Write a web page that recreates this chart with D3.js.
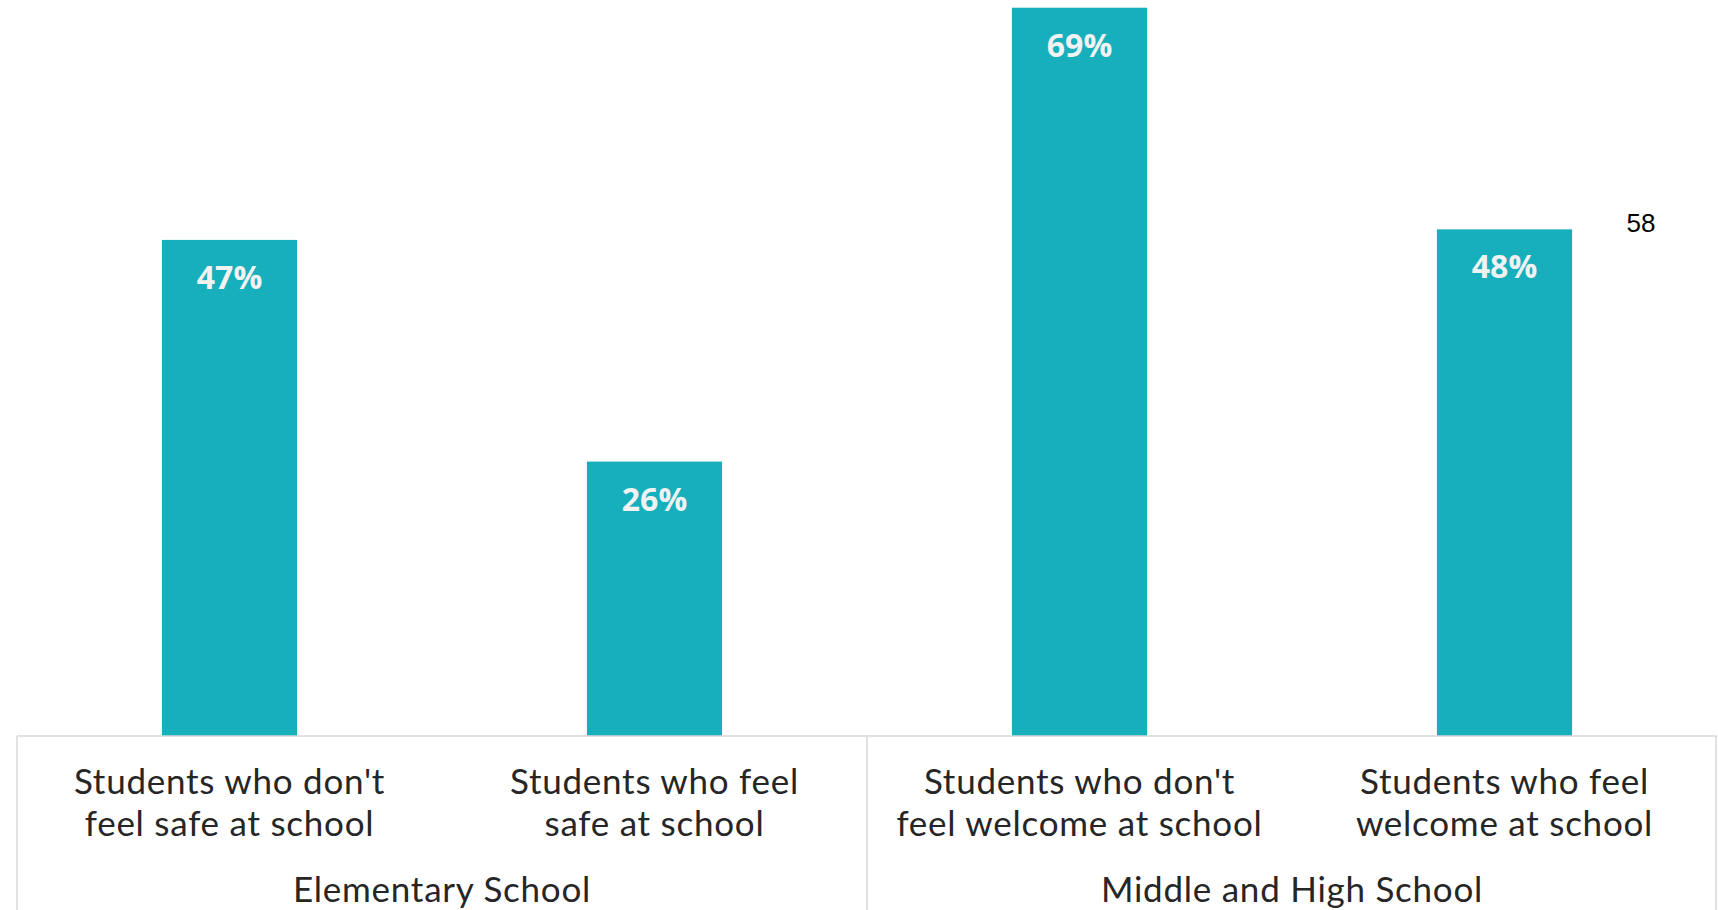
<!DOCTYPE html>
<html>
<head>
<meta charset="utf-8">
<script src="https://cdn.jsdelivr.net/npm/d3@7"></script>
<style>
  html, body { margin: 0; padding: 0; background: #ffffff; }
  svg { display: block; }
</style>
</head>
<body>
<svg id="chart" width="1718" height="910"></svg>
<script>
// Category labels (two lines each), group names and percentages
const categories = [
  "Students who don't feel safe at school",
  "Students who feel safe at school",
  "Students who don't feel welcome at school",
  "Students who feel welcome at school"
];
const categoryLines = [
  ["Students who don't", "feel safe at school"],
  ["Students who feel", "safe at school"],
  ["Students who don't", "feel welcome at school"],
  ["Students who feel", "welcome at school"]
];
const groups = ["Elementary School", "Middle and High School"];
const groupOf = [0, 0, 1, 1];
const values = [47, 26, 69, 48];
const valueLabels = ["47%", "26%", "69%", "48%"];
const sideNote = "58";

const W = 1718, H = 910;
const left = 17, right = 1717, baseline = 736;
const barColor = "#16afbb";
const gridColor = "#d9d9d9";
const textColor = "#262626";

const svg = d3.select("#chart");

const x = d3.scaleBand()
  .domain(categories)
  .range([left, right])
  .paddingInner(0.682)
  .paddingOuter(0.341);

const y = d3.scaleLinear()
  .domain([0, 69.73])
  .range([baseline, 0]);

// Bars
svg.append("g")
  .selectAll("rect")
  .data(values)
  .join("rect")
  .attr("x", (d, i) => x(categories[i]))
  .attr("y", d => y(d))
  .attr("width", x.bandwidth())
  .attr("height", d => y(0) - y(d))
  .attr("fill", barColor);

// Value labels inside the top of each bar
svg.append("g")
  .selectAll("text")
  .data(values)
  .join("text")
  .attr("x", (d, i) => x(categories[i]) + x.bandwidth() / 2)
  .attr("y", d => y(d) + 49)
  .attr("text-anchor", "middle")
  .attr("font-family", "'Open Sans', sans-serif")
  .attr("font-weight", 700)
  .attr("font-size", 32)
  .attr("fill", "#f2f2f2")
  .text((d, i) => valueLabels[i]);

// Category axis: top rule plus group boxes
const axis = svg.append("g");
axis.append("line")
  .attr("x1", left).attr("x2", right)
  .attr("y1", baseline).attr("y2", baseline)
  .attr("stroke", gridColor).attr("stroke-width", 1.5);

// Vertical dividers at the outer edges and between groups
const step = x.step();
const groupEdges = [left];
groups.forEach((g, gi) => {
  const members = categories.filter((c, i) => groupOf[i] === gi);
  const last = members[members.length - 1];
  groupEdges.push(x(last) + x.bandwidth() / 2 + step / 2);
});
axis.selectAll("line.divider")
  .data(groupEdges)
  .join("line")
  .attr("class", "divider")
  .attr("x1", d => Math.min(d, right - 1)).attr("x2", d => Math.min(d, right - 1))
  .attr("y1", baseline).attr("y2", H)
  .attr("stroke", gridColor).attr("stroke-width", 1.5);

const labelFont = {
  family: "Lato, sans-serif",
  size: 35,
  spacing: 0.75
};

// Category tick labels
const catText = axis.selectAll("text.cat")
  .data(categories)
  .join("text")
  .attr("class", "cat")
  .attr("x", d => x(d) + x.bandwidth() / 2)
  .attr("y", 794)
  .attr("text-anchor", "middle")
  .attr("font-family", labelFont.family)
  .attr("font-size", labelFont.size)
  .attr("letter-spacing", labelFont.spacing)
  .attr("fill", textColor);
catText.selectAll("tspan")
  .data((d, i) => categoryLines[i])
  .join("tspan")
  .attr("x", function () { return d3.select(this.parentNode).attr("x"); })
  .attr("dy", (d, j) => j === 0 ? 0 : 41.5)
  .text(d => d);

// Group labels centred under their categories
axis.selectAll("text.group")
  .data(groups)
  .join("text")
  .attr("class", "group")
  .attr("x", (g, gi) => {
    const centers = categories.filter((c, i) => groupOf[i] === gi)
      .map(c => x(c) + x.bandwidth() / 2);
    return d3.mean(centers);
  })
  .attr("y", 902)
  .attr("text-anchor", "middle")
  .attr("font-family", labelFont.family)
  .attr("font-size", labelFont.size)
  .attr("letter-spacing", labelFont.spacing)
  .attr("fill", textColor)
  .text(d => d);

// Stray note at the right
svg.append("text")
  .attr("x", 1641)
  .attr("y", 231.5)
  .attr("text-anchor", "middle")
  .attr("font-family", "'Liberation Sans', Arial, sans-serif")
  .attr("font-size", 26)
  .attr("fill", "#000000")
  .text(sideNote);
</script>
</body>
</html>
